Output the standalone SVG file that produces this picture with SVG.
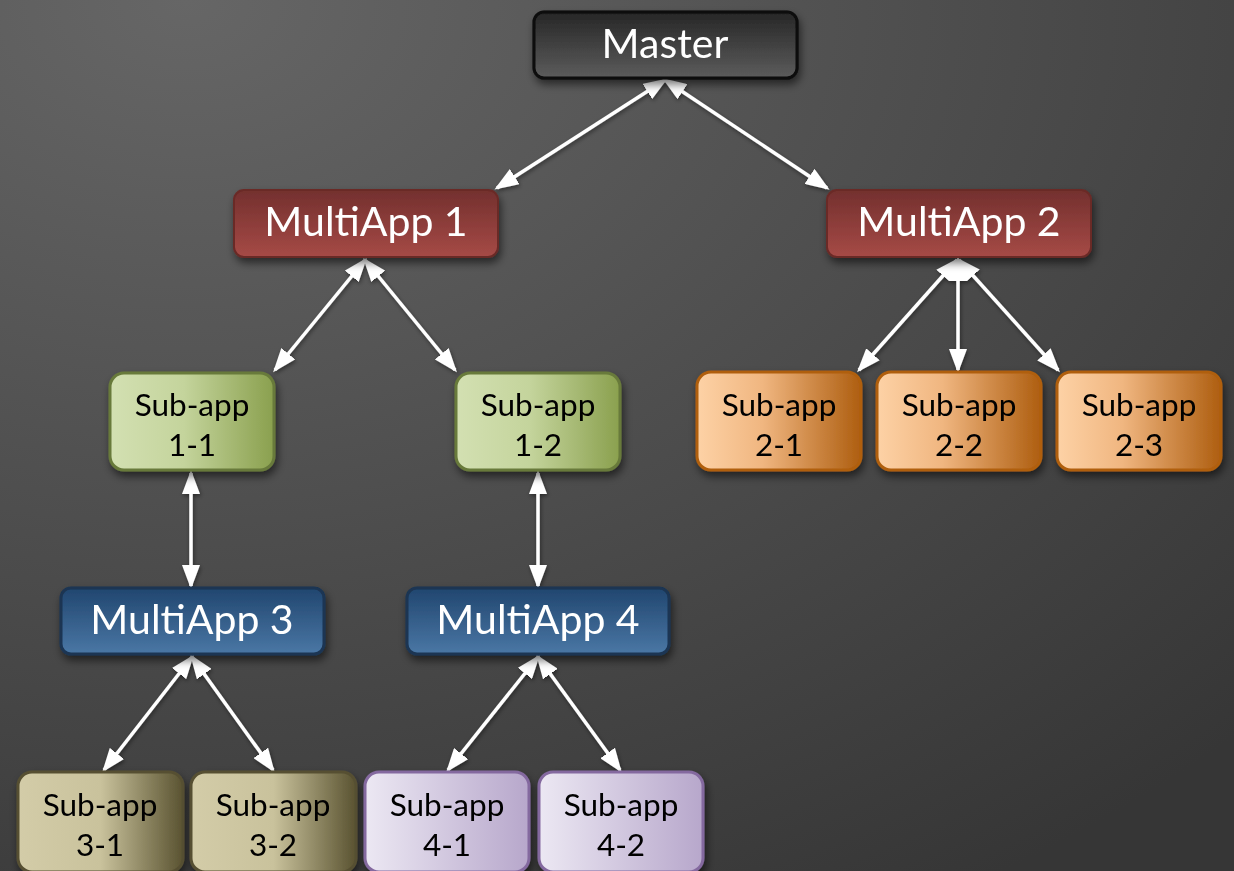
<svg xmlns="http://www.w3.org/2000/svg" width="1234" height="871" viewBox="0 0 1234 871">
  <style>
    .lbl { font-family: Lato, "Noto Sans", "DejaVu Sans", sans-serif; text-anchor: middle; }
    .big { font-size: 41px; fill: #ffffff; }
    .small { font-size: 31.5px; fill: #000000; }
    .link { stroke: #ffffff; stroke-width: 3.5; fill: none; marker-start: url(#head); marker-end: url(#head); }
  </style>
  <defs>
    <radialGradient id="bg" cx="0.15" cy="0" r="1.2">
      <stop offset="0" stop-color="#666666"/>
      <stop offset="1" stop-color="#363636"/>
    </radialGradient>
    <linearGradient id="gMaster" x1="0" y1="0" x2="0" y2="1">
      <stop offset="0" stop-color="#262626"/>
      <stop offset="1" stop-color="#5c5c5c"/>
    </linearGradient>
    <linearGradient id="gRed" x1="0" y1="0" x2="0" y2="1">
      <stop offset="0" stop-color="#73302e"/>
      <stop offset="1" stop-color="#a64a46"/>
    </linearGradient>
    <linearGradient id="gBlue" x1="0" y1="0" x2="0" y2="1">
      <stop offset="0" stop-color="#21466f"/>
      <stop offset="1" stop-color="#4a77a5"/>
    </linearGradient>
    <linearGradient id="gGreen" x1="0" y1="0" x2="1" y2="0">
      <stop offset="0" stop-color="#d3e0b2"/>
      <stop offset="0.45" stop-color="#c4d49c"/>
      <stop offset="1" stop-color="#8aa04e"/>
    </linearGradient>
    <linearGradient id="gOrange" x1="0" y1="0" x2="1" y2="0">
      <stop offset="0" stop-color="#fdd2a6"/>
      <stop offset="0.4" stop-color="#f0b680"/>
      <stop offset="1" stop-color="#ae5e10"/>
    </linearGradient>
    <linearGradient id="gOlive" x1="0" y1="0" x2="1" y2="0">
      <stop offset="0" stop-color="#d3cca8"/>
      <stop offset="0.5" stop-color="#c9c29c"/>
      <stop offset="1" stop-color="#5a5331"/>
    </linearGradient>
    <linearGradient id="gLav" x1="0" y1="0" x2="1" y2="0">
      <stop offset="0" stop-color="#ece8f3"/>
      <stop offset="1" stop-color="#b7a7cb"/>
    </linearGradient>
    <filter id="shadow" x="-20%" y="-20%" width="140%" height="160%">
      <feDropShadow dx="2" dy="5" stdDeviation="4" flood-color="#000000" flood-opacity="0.55"/>
    </filter>
    <filter id="lineShadow" x="-10%" y="-10%" width="120%" height="120%">
      <feDropShadow dx="1" dy="2" stdDeviation="2" flood-color="#000000" flood-opacity="0.45"/>
    </filter>
    <marker id="head" viewBox="0 0 24 18" refX="21" refY="9" markerWidth="24" markerHeight="18" markerUnits="userSpaceOnUse" orient="auto-start-reverse">
      <path d="M0,0 L24,9 L0,18 Z" fill="#ffffff"/>
    </marker>
  </defs>

  <rect width="1234" height="871" fill="url(#bg)"/>

  <!-- connectors -->
  <g id="connectors" filter="url(#lineShadow)">
    <line class="link" x1="665" y1="80" x2="497" y2="188"/>
    <line class="link" x1="665" y1="80" x2="827" y2="188"/>
    <line class="link" x1="365" y1="260" x2="275" y2="370"/>
    <line class="link" x1="365" y1="260" x2="455" y2="370"/>
    <line class="link" x1="957" y1="260" x2="859" y2="370"/>
    <line class="link" x1="958" y1="260" x2="958" y2="370"/>
    <line class="link" x1="959" y1="260" x2="1058" y2="370"/>
    <line class="link" x1="191" y1="473" x2="191" y2="586"/>
    <line class="link" x1="538" y1="473" x2="538" y2="586"/>
    <line class="link" x1="192" y1="657" x2="104" y2="770"/>
    <line class="link" x1="192" y1="657" x2="273" y2="770"/>
    <line class="link" x1="538" y1="657" x2="448" y2="770"/>
    <line class="link" x1="538" y1="657" x2="620" y2="770"/>
  </g>

  <!-- top level -->
  <g id="master" filter="url(#shadow)">
    <rect x="534" y="12" width="263" height="66" rx="10" fill="url(#gMaster)" stroke="#0d0d0d" stroke-width="3"/>
    <text class="lbl big" x="665" y="58">Master</text>
  </g>

  <!-- MultiApp level 1 -->
  <g id="multiapp1" filter="url(#shadow)">
    <rect x="234" y="190" width="264" height="67" rx="10" fill="url(#gRed)" stroke="#6a2927" stroke-width="2"/>
    <text class="lbl big" x="366" y="236">MultiApp 1</text>
  </g>
  <g id="multiapp2" filter="url(#shadow)">
    <rect x="827" y="190" width="264" height="67" rx="10" fill="url(#gRed)" stroke="#6a2927" stroke-width="2"/>
    <text class="lbl big" x="959" y="236">MultiApp 2</text>
  </g>

  <!-- sub-apps of MultiApp 1 -->
  <g id="subapp-1-1" filter="url(#shadow)">
    <rect x="110" y="373" width="164" height="97" rx="14" fill="url(#gGreen)" stroke="#687a3a" stroke-width="3"/>
    <text class="lbl small" x="192" y="416">Sub-app</text>
    <text class="lbl small" x="192" y="456">1-1</text>
  </g>
  <g id="subapp-1-2" filter="url(#shadow)">
    <rect x="456" y="373" width="164" height="97" rx="14" fill="url(#gGreen)" stroke="#687a3a" stroke-width="3"/>
    <text class="lbl small" x="538" y="416">Sub-app</text>
    <text class="lbl small" x="538" y="456">1-2</text>
  </g>

  <!-- sub-apps of MultiApp 2 -->
  <g id="subapp-2-1" filter="url(#shadow)">
    <rect x="697" y="372" width="164" height="98" rx="14" fill="url(#gOrange)" stroke="#b05f0e" stroke-width="3"/>
    <text class="lbl small" x="779" y="416">Sub-app</text>
    <text class="lbl small" x="779" y="456">2-1</text>
  </g>
  <g id="subapp-2-2" filter="url(#shadow)">
    <rect x="877" y="372" width="164" height="98" rx="14" fill="url(#gOrange)" stroke="#b05f0e" stroke-width="3"/>
    <text class="lbl small" x="959" y="416">Sub-app</text>
    <text class="lbl small" x="959" y="456">2-2</text>
  </g>
  <g id="subapp-2-3" filter="url(#shadow)">
    <rect x="1057" y="372" width="164" height="98" rx="14" fill="url(#gOrange)" stroke="#b05f0e" stroke-width="3"/>
    <text class="lbl small" x="1139" y="416">Sub-app</text>
    <text class="lbl small" x="1139" y="456">2-3</text>
  </g>

  <!-- MultiApp level 2 -->
  <g id="multiapp3" filter="url(#shadow)">
    <rect x="61" y="588" width="263" height="66" rx="10" fill="url(#gBlue)" stroke="#1a3553" stroke-width="3"/>
    <text class="lbl big" x="192" y="634">MultiApp 3</text>
  </g>
  <g id="multiapp4" filter="url(#shadow)">
    <rect x="407" y="588" width="262" height="66" rx="10" fill="url(#gBlue)" stroke="#1a3553" stroke-width="3"/>
    <text class="lbl big" x="538" y="634">MultiApp 4</text>
  </g>

  <!-- sub-apps of MultiApp 3 -->
  <g id="subapp-3-1" filter="url(#shadow)">
    <rect x="18" y="772" width="165" height="100" rx="14" fill="url(#gOlive)" stroke="#575033" stroke-width="3"/>
    <text class="lbl small" x="100" y="816">Sub-app</text>
    <text class="lbl small" x="100" y="856">3-1</text>
  </g>
  <g id="subapp-3-2" filter="url(#shadow)">
    <rect x="191" y="772" width="165" height="100" rx="14" fill="url(#gOlive)" stroke="#575033" stroke-width="3"/>
    <text class="lbl small" x="273" y="816">Sub-app</text>
    <text class="lbl small" x="273" y="856">3-2</text>
  </g>

  <!-- sub-apps of MultiApp 4 -->
  <g id="subapp-4-1" filter="url(#shadow)">
    <rect x="365" y="772" width="164" height="100" rx="14" fill="url(#gLav)" stroke="#84699f" stroke-width="3"/>
    <text class="lbl small" x="447" y="816">Sub-app</text>
    <text class="lbl small" x="447" y="856">4-1</text>
  </g>
  <g id="subapp-4-2" filter="url(#shadow)">
    <rect x="539" y="772" width="164" height="100" rx="14" fill="url(#gLav)" stroke="#84699f" stroke-width="3"/>
    <text class="lbl small" x="621" y="816">Sub-app</text>
    <text class="lbl small" x="621" y="856">4-2</text>
  </g>
</svg>
